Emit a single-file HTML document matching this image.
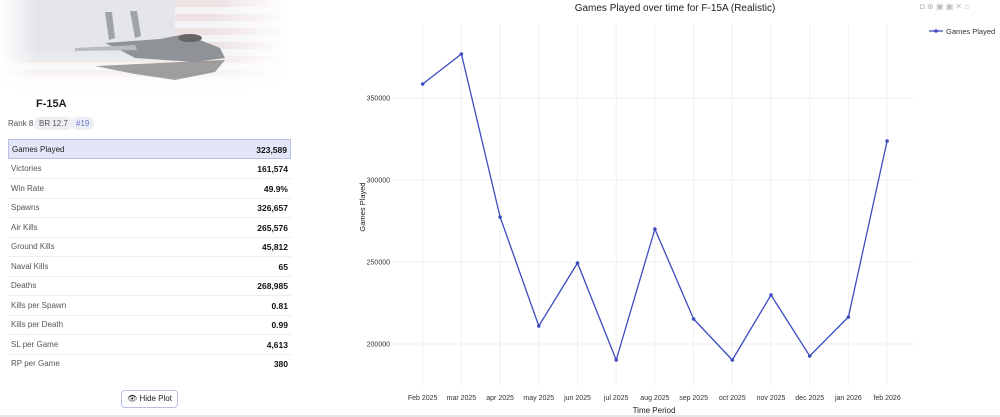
<!DOCTYPE html>
<html><head><meta charset="utf-8"><style>
body{margin:0;width:1000px;height:417px;background:#fff;font-family:"Liberation Sans",sans-serif;position:relative;overflow:hidden}
.hero{position:absolute;left:0;top:0;width:305px;height:90px;background:repeating-linear-gradient(180deg,#eee2e3 0 7px,#f4f4f6 7px 14px);}
.hero:after{content:"";position:absolute;left:0;top:0;right:0;bottom:0;background:linear-gradient(90deg,#fff 0%,rgba(255,255,255,0) 12%,rgba(255,255,255,0) 70%,#fff 95%),linear-gradient(180deg,rgba(255,255,255,0) 55%,#fff 100%)}
.canton{position:absolute;left:0;top:0;width:175px;height:60px;background:#e4e6ec}
.t{position:absolute;white-space:nowrap}
.row{position:absolute;left:8px;width:283px;height:19px;border-bottom:1px solid #eee;font-size:8px;color:#555}
.row span{position:absolute;top:5px}
.row b{position:absolute;right:3px;top:5px;color:#111;font-size:8.5px}
</style></head><body>
<div class="hero"><div class="canton"></div>
<svg style="position:absolute;left:75px;top:8px;z-index:1" width="160" height="75"><path d="M20 58 L150 52 L140 64 L100 72 L60 66Z" fill="#333" opacity=".45"/><path d="M30 35 L85 31 L110 26 L145 40 L150 50 L120 54 L60 50 L45 42Z" fill="#8f9398"/><path d="M30 4 L37 4 L40 30 L34 32Z" fill="#a0a4a9"/><path d="M55 3 L62 3 L66 28 L60 30Z" fill="#a0a4a9"/><path d="M0 40 L60 37 L62 42 L0 43Z" fill="#b8bbbf"/><ellipse cx="115" cy="30" rx="12" ry="4" fill="#666"/></svg>
</div>
<div class="t" style="left:36px;top:98px;font-size:11px;font-weight:bold;color:#222">F-15A</div>
<div class="t" style="left:8px;top:119px;font-size:8px;color:#555">Rank 8</div>
<div class="t" style="left:34px;top:117px;padding:2px 5px;background:#eceef2;border-radius:8px;font-size:8px;color:#555">BR 12.7</div>
<div class="t" style="left:71px;top:117px;padding:2px 5px;background:#eceef6;border-radius:8px;font-size:8px;color:#6a72c0">#19</div>
<div class="row" style="top:139px;background:#e3e6f6;border:1px solid #b8bfe6;width:281px;height:18px;color:#222"><span style="left:3px">Games Played</span><b>323,589</b></div>
<div class="row" style="top:159px"><span style="left:3px">Victories</span><b>161,574</b></div>
<div class="row" style="top:178.5px"><span style="left:3px">Win Rate</span><b>49.9%</b></div>
<div class="row" style="top:198px"><span style="left:3px">Spawns</span><b>326,657</b></div>
<div class="row" style="top:217.5px"><span style="left:3px">Air Kills</span><b>265,576</b></div>
<div class="row" style="top:237px"><span style="left:3px">Ground Kills</span><b>45,812</b></div>
<div class="row" style="top:256.5px"><span style="left:3px">Naval Kills</span><b>65</b></div>
<div class="row" style="top:276px"><span style="left:3px">Deaths</span><b>268,985</b></div>
<div class="row" style="top:295.5px"><span style="left:3px">Kills per Spawn</span><b>0.81</b></div>
<div class="row" style="top:315px"><span style="left:3px">Kills per Death</span><b>0.99</b></div>
<div class="row" style="top:334.5px"><span style="left:3px">SL per Game</span><b>4,613</b></div>
<div class="row" style="top:354px;border-bottom:none"><span style="left:3px">RP per Game</span><b>380</b></div>
<div class="t" style="left:121px;top:390px;width:55px;height:16px;border:1px solid #b8bfe6;border-radius:4px;font-size:8px;color:#222;line-height:16px;text-align:center">👁&#xFE0E; Hide Plot</div>
<div style="position:absolute;left:0;top:415px;width:1000px;height:2px;background:#e6e6e6"></div>
<svg style="position:absolute;left:0;top:0" width="1000" height="415" font-family="Liberation Sans,sans-serif">
<text x="675" y="11" font-size="10" text-anchor="middle" fill="#222">Games Played over time for F-15A (Realistic)</text>
<g fill="#bbb" font-size="8"><text x="920" y="9">◘ ⊕ ▣ ▣ ✕ ⌂</text></g>
<g stroke="#f0f0f0" stroke-width="1">
<line x1="422.7" y1="24" x2="422.7" y2="385"/><line x1="461.4" y1="24" x2="461.4" y2="385"/><line x1="500.1" y1="24" x2="500.1" y2="385"/><line x1="538.8" y1="24" x2="538.8" y2="385"/><line x1="577.5" y1="24" x2="577.5" y2="385"/><line x1="616.2" y1="24" x2="616.2" y2="385"/><line x1="654.9" y1="24" x2="654.9" y2="385"/><line x1="693.6" y1="24" x2="693.6" y2="385"/><line x1="732.3" y1="24" x2="732.3" y2="385"/><line x1="771" y1="24" x2="771" y2="385"/><line x1="809.7" y1="24" x2="809.7" y2="385"/><line x1="848.4" y1="24" x2="848.4" y2="385"/><line x1="887.1" y1="24" x2="887.1" y2="385"/>
<line x1="392" y1="98" x2="914" y2="98"/><line x1="392" y1="180" x2="914" y2="180"/><line x1="392" y1="262" x2="914" y2="262"/><line x1="392" y1="344" x2="914" y2="344"/>
</g>
<g font-size="7" fill="#333" text-anchor="end"><text x="390" y="100.5">350000</text><text x="390" y="182.5">300000</text><text x="390" y="264.5">250000</text><text x="390" y="346.5">200000</text></g>
<g font-size="7" fill="#333" text-anchor="middle"><text x="422.7" y="400">Feb 2025</text><text x="461.4" y="400">mar 2025</text><text x="500.1" y="400">apr 2025</text><text x="538.8" y="400">may 2025</text><text x="577.5" y="400">jun 2025</text><text x="616.2" y="400">jul 2025</text><text x="654.9" y="400">aug 2025</text><text x="693.6" y="400">sep 2025</text><text x="732.3" y="400">oct 2025</text><text x="771" y="400">nov 2025</text><text x="809.7" y="400">dec 2025</text><text x="848.4" y="400">jan 2026</text><text x="887.1" y="400">feb 2026</text></g>
<text x="654" y="413" font-size="8" text-anchor="middle" fill="#222">Time Period</text>
<text x="365" y="207" font-size="7.5" text-anchor="middle" fill="#222" transform="rotate(-90 365 207)">Games Played</text>
<polyline fill="none" stroke="#3d4bbf" stroke-width="1.3" points="422.7,84 461.4,54 500.1,217 538.8,326 577.5,263 616.2,360 654.9,229 693.6,319 732.3,360 771,295 809.7,356 848.4,317 887.1,141"/>
<g fill="#3d4bbf"><circle cx="422.7" cy="84" r="1.8"/><circle cx="461.4" cy="54" r="1.8"/><circle cx="500.1" cy="217" r="1.8"/><circle cx="538.8" cy="326" r="1.8"/><circle cx="577.5" cy="263" r="1.8"/><circle cx="616.2" cy="360" r="1.8"/><circle cx="654.9" cy="229" r="1.8"/><circle cx="693.6" cy="319" r="1.8"/><circle cx="732.3" cy="360" r="1.8"/><circle cx="771" cy="295" r="1.8"/><circle cx="809.7" cy="356" r="1.8"/><circle cx="848.4" cy="317" r="1.8"/><circle cx="887.1" cy="141" r="1.8"/></g>
<line x1="929" y1="31" x2="943" y2="31" stroke="#3d4bbf" stroke-width="1.3"/><circle cx="936" cy="31" r="1.8" fill="#3d4bbf"/>
<text x="946" y="34" font-size="7.5" fill="#333">Games Played</text>
</svg>
</body></html>
